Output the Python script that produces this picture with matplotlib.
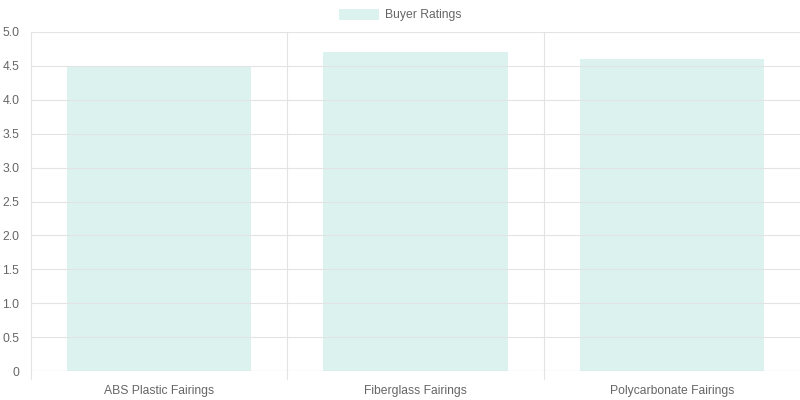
import matplotlib.pyplot as plt
from matplotlib.patches import Patch

categories = ['ABS Plastic Fairings', 'Fiberglass Fairings', 'Polycarbonate Fairings']
ratings = [4.5, 4.7, 4.6]
y_ticks = [0, 0.5, 1.0, 1.5, 2.0, 2.5, 3.0, 3.5, 4.0, 4.5, 5.0]
y_labels = ['0', '0.5', '1.0', '1.5', '2.0', '2.5', '3.0', '3.5', '4.0', '4.5', '5.0']

bar_color = '#dbf2ee'
grid_color = '#e3e3e3'
text_color = '#666666'

plt.rcParams['font.family'] = ['Liberation Sans', 'DejaVu Sans']

fig = plt.figure(figsize=(8, 4), dpi=100)
ax = fig.add_axes([31 / 800, 29 / 400, 769 / 800, 339 / 400])

x = list(range(len(categories)))
ax.bar(x, ratings, width=0.72, color=bar_color, zorder=1)

ax.set_xlim(-0.5, len(categories) - 0.5)
ax.set_ylim(0, 5)
ax.set_yticks(y_ticks)
ax.set_yticklabels(y_labels)
ax.set_xticks(x)
ax.set_xticklabels(categories)

# vertical grid lines sit between the categories (none at the right edge)
for b in [-0.5, 0.5, 1.5]:
    ax.plot([b, b], [-8 / 339 * 5, 5], color=grid_color, lw=0.8, zorder=2, clip_on=False)
for t in y_ticks[1:]:
    ax.axhline(t, color=grid_color, lw=0.8, zorder=2)
ax.axhline(0, color='#c4c4c4', lw=0.8, zorder=3)

for s in ax.spines.values():
    s.set_visible(False)
ax.tick_params(axis='both', length=0, colors=text_color, labelsize=8.7)
ax.tick_params(axis='x', pad=10)
ax.tick_params(axis='y', pad=8.5)

handles = [Patch(facecolor=bar_color, edgecolor='none', label='Buyer Ratings')]
fig.legend(handles=handles, loc='center', bbox_to_anchor=(0.5, 1 - 15 / 400),
           frameon=False, fontsize=8.7, labelcolor=text_color,
           handlelength=3.3, handleheight=1.0, handletextpad=0.5)

fig.savefig('out.png', dpi=100)
